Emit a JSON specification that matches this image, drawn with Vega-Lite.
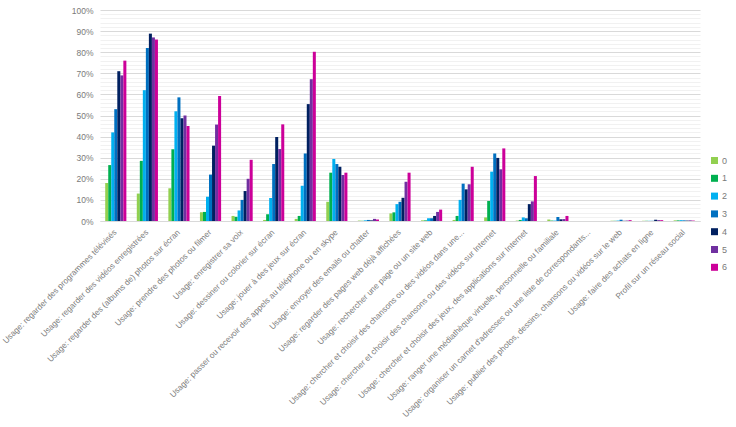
{
  "$schema": "https://vega.github.io/schema/vega-lite/v6.json",
  "width": 600,
  "height": 211,
  "autosize": {"type": "none"},
  "padding": {"left": 100, "top": 10, "right": 36, "bottom": 206},
  "background": "white",
  "config": {
    "view": {"stroke": null},
    "font": "Liberation Sans",
    "axis": {"labelColor": "#7a7a7a", "labelFont": "Liberation Sans"},
    "legend": {"labelColor": "#7a7a7a", "labelFont": "Liberation Sans"}
  },
  "data": {
    "values": [
      {"usage": "Usage: regarder des programmes télévisés", "groupe": "0", "pct": 18},
      {"usage": "Usage: regarder des programmes télévisés", "groupe": "1", "pct": 26.5},
      {"usage": "Usage: regarder des programmes télévisés", "groupe": "2", "pct": 42},
      {"usage": "Usage: regarder des programmes télévisés", "groupe": "3", "pct": 53},
      {"usage": "Usage: regarder des programmes télévisés", "groupe": "4", "pct": 71},
      {"usage": "Usage: regarder des programmes télévisés", "groupe": "5", "pct": 69},
      {"usage": "Usage: regarder des programmes télévisés", "groupe": "6", "pct": 76},

      {"usage": "Usage: regarder des vidéos enregistrées", "groupe": "0", "pct": 13},
      {"usage": "Usage: regarder des vidéos enregistrées", "groupe": "1", "pct": 28.5},
      {"usage": "Usage: regarder des vidéos enregistrées", "groupe": "2", "pct": 62},
      {"usage": "Usage: regarder des vidéos enregistrées", "groupe": "3", "pct": 82},
      {"usage": "Usage: regarder des vidéos enregistrées", "groupe": "4", "pct": 88.8},
      {"usage": "Usage: regarder des vidéos enregistrées", "groupe": "5", "pct": 87},
      {"usage": "Usage: regarder des vidéos enregistrées", "groupe": "6", "pct": 86},

      {"usage": "Usage: regarder des (albums de) photos sur écran", "groupe": "0", "pct": 15.5},
      {"usage": "Usage: regarder des (albums de) photos sur écran", "groupe": "1", "pct": 34},
      {"usage": "Usage: regarder des (albums de) photos sur écran", "groupe": "2", "pct": 52},
      {"usage": "Usage: regarder des (albums de) photos sur écran", "groupe": "3", "pct": 58.6},
      {"usage": "Usage: regarder des (albums de) photos sur écran", "groupe": "4", "pct": 48.7},
      {"usage": "Usage: regarder des (albums de) photos sur écran", "groupe": "5", "pct": 50},
      {"usage": "Usage: regarder des (albums de) photos sur écran", "groupe": "6", "pct": 45},

      {"usage": "Usage: prendre des photos ou filmer", "groupe": "0", "pct": 4.1},
      {"usage": "Usage: prendre des photos ou filmer", "groupe": "1", "pct": 4.3},
      {"usage": "Usage: prendre des photos ou filmer", "groupe": "2", "pct": 11.5},
      {"usage": "Usage: prendre des photos ou filmer", "groupe": "3", "pct": 22},
      {"usage": "Usage: prendre des photos ou filmer", "groupe": "4", "pct": 35.7},
      {"usage": "Usage: prendre des photos ou filmer", "groupe": "5", "pct": 45.7},
      {"usage": "Usage: prendre des photos ou filmer", "groupe": "6", "pct": 59.2},

      {"usage": "Usage: enregistrer sa voix", "groupe": "0", "pct": 2.4},
      {"usage": "Usage: enregistrer sa voix", "groupe": "1", "pct": 2},
      {"usage": "Usage: enregistrer sa voix", "groupe": "2", "pct": 5},
      {"usage": "Usage: enregistrer sa voix", "groupe": "3", "pct": 10},
      {"usage": "Usage: enregistrer sa voix", "groupe": "4", "pct": 14.2},
      {"usage": "Usage: enregistrer sa voix", "groupe": "5", "pct": 20},
      {"usage": "Usage: enregistrer sa voix", "groupe": "6", "pct": 29},

      {"usage": "Usage: dessiner ou colorier sur écran", "groupe": "0", "pct": 0.5},
      {"usage": "Usage: dessiner ou colorier sur écran", "groupe": "1", "pct": 3.2},
      {"usage": "Usage: dessiner ou colorier sur écran", "groupe": "2", "pct": 10.9},
      {"usage": "Usage: dessiner ou colorier sur écran", "groupe": "3", "pct": 27},
      {"usage": "Usage: dessiner ou colorier sur écran", "groupe": "4", "pct": 39.8},
      {"usage": "Usage: dessiner ou colorier sur écran", "groupe": "5", "pct": 34.1},
      {"usage": "Usage: dessiner ou colorier sur écran", "groupe": "6", "pct": 45.8},

      {"usage": "Usage: jouer à des jeux sur écran", "groupe": "0", "pct": 1},
      {"usage": "Usage: jouer à des jeux sur écran", "groupe": "1", "pct": 2.4},
      {"usage": "Usage: jouer à des jeux sur écran", "groupe": "2", "pct": 16.7},
      {"usage": "Usage: jouer à des jeux sur écran", "groupe": "3", "pct": 32},
      {"usage": "Usage: jouer à des jeux sur écran", "groupe": "4", "pct": 55.4},
      {"usage": "Usage: jouer à des jeux sur écran", "groupe": "5", "pct": 67.2},
      {"usage": "Usage: jouer à des jeux sur écran", "groupe": "6", "pct": 80.2},

      {"usage": "Usage: passer ou recevoir des appels au téléphone ou en skype", "groupe": "0", "pct": 9.1},
      {"usage": "Usage: passer ou recevoir des appels au téléphone ou en skype", "groupe": "1", "pct": 22.9},
      {"usage": "Usage: passer ou recevoir des appels au téléphone ou en skype", "groupe": "2", "pct": 29.4},
      {"usage": "Usage: passer ou recevoir des appels au téléphone ou en skype", "groupe": "3", "pct": 27},
      {"usage": "Usage: passer ou recevoir des appels au téléphone ou en skype", "groupe": "4", "pct": 25.7},
      {"usage": "Usage: passer ou recevoir des appels au téléphone ou en skype", "groupe": "5", "pct": 21.8},
      {"usage": "Usage: passer ou recevoir des appels au téléphone ou en skype", "groupe": "6", "pct": 22.9},

      {"usage": "Usage: envoyer des emails ou chatter", "groupe": "0", "pct": 0.2},
      {"usage": "Usage: envoyer des emails ou chatter", "groupe": "1", "pct": 0.1},
      {"usage": "Usage: envoyer des emails ou chatter", "groupe": "2", "pct": 0.3},
      {"usage": "Usage: envoyer des emails ou chatter", "groupe": "3", "pct": 0.5},
      {"usage": "Usage: envoyer des emails ou chatter", "groupe": "4", "pct": 0.3},
      {"usage": "Usage: envoyer des emails ou chatter", "groupe": "5", "pct": 1},
      {"usage": "Usage: envoyer des emails ou chatter", "groupe": "6", "pct": 0.7},

      {"usage": "Usage: regarder des pages web déjà affichées", "groupe": "0", "pct": 3.6},
      {"usage": "Usage: regarder des pages web déjà affichées", "groupe": "1", "pct": 4.1},
      {"usage": "Usage: regarder des pages web déjà affichées", "groupe": "2", "pct": 8},
      {"usage": "Usage: regarder des pages web déjà affichées", "groupe": "3", "pct": 9.1},
      {"usage": "Usage: regarder des pages web déjà affichées", "groupe": "4", "pct": 11},
      {"usage": "Usage: regarder des pages web déjà affichées", "groupe": "5", "pct": 18.6},
      {"usage": "Usage: regarder des pages web déjà affichées", "groupe": "6", "pct": 22.9},

      {"usage": "Usage: rechercher une page ou un site web", "groupe": "0", "pct": 0.3},
      {"usage": "Usage: rechercher une page ou un site web", "groupe": "1", "pct": 0.3},
      {"usage": "Usage: rechercher une page ou un site web", "groupe": "2", "pct": 1.3},
      {"usage": "Usage: rechercher une page ou un site web", "groupe": "3", "pct": 1.3},
      {"usage": "Usage: rechercher une page ou un site web", "groupe": "4", "pct": 2.4},
      {"usage": "Usage: rechercher une page ou un site web", "groupe": "5", "pct": 4.3},
      {"usage": "Usage: rechercher une page ou un site web", "groupe": "6", "pct": 5.4},

      {"usage": "Usage: chercher et choisir des chansons ou des vidéos dans une...", "groupe": "0", "pct": 0.5},
      {"usage": "Usage: chercher et choisir des chansons ou des vidéos dans une...", "groupe": "1", "pct": 2.4},
      {"usage": "Usage: chercher et choisir des chansons ou des vidéos dans une...", "groupe": "2", "pct": 10},
      {"usage": "Usage: chercher et choisir des chansons ou des vidéos dans une...", "groupe": "3", "pct": 17.7},
      {"usage": "Usage: chercher et choisir des chansons ou des vidéos dans une...", "groupe": "4", "pct": 15},
      {"usage": "Usage: chercher et choisir des chansons ou des vidéos dans une...", "groupe": "5", "pct": 17.4},
      {"usage": "Usage: chercher et choisir des chansons ou des vidéos dans une...", "groupe": "6", "pct": 25.7},

      {"usage": "Usage: chercher et choisir des chansons ou des vidéos sur Internet", "groupe": "0", "pct": 1.7},
      {"usage": "Usage: chercher et choisir des chansons ou des vidéos sur Internet", "groupe": "1", "pct": 9.5},
      {"usage": "Usage: chercher et choisir des chansons ou des vidéos sur Internet", "groupe": "2", "pct": 23.4},
      {"usage": "Usage: chercher et choisir des chansons ou des vidéos sur Internet", "groupe": "3", "pct": 32},
      {"usage": "Usage: chercher et choisir des chansons ou des vidéos sur Internet", "groupe": "4", "pct": 29.9},
      {"usage": "Usage: chercher et choisir des chansons ou des vidéos sur Internet", "groupe": "5", "pct": 24.5},
      {"usage": "Usage: chercher et choisir des chansons ou des vidéos sur Internet", "groupe": "6", "pct": 34.4},

      {"usage": "Usage: chercher et choisir des jeux, des applications sur Internet", "groupe": "0", "pct": 0.2},
      {"usage": "Usage: chercher et choisir des jeux, des applications sur Internet", "groupe": "1", "pct": 0.5},
      {"usage": "Usage: chercher et choisir des jeux, des applications sur Internet", "groupe": "2", "pct": 1.7},
      {"usage": "Usage: chercher et choisir des jeux, des applications sur Internet", "groupe": "3", "pct": 1.3},
      {"usage": "Usage: chercher et choisir des jeux, des applications sur Internet", "groupe": "4", "pct": 8},
      {"usage": "Usage: chercher et choisir des jeux, des applications sur Internet", "groupe": "5", "pct": 9.3},
      {"usage": "Usage: chercher et choisir des jeux, des applications sur Internet", "groupe": "6", "pct": 21.3},

      {"usage": "Usage: ranger une médiathèque virtuelle, personnelle ou familiale", "groupe": "0", "pct": 0.7},
      {"usage": "Usage: ranger une médiathèque virtuelle, personnelle ou familiale", "groupe": "1", "pct": 0.2},
      {"usage": "Usage: ranger une médiathèque virtuelle, personnelle ou familiale", "groupe": "2", "pct": 0.2},
      {"usage": "Usage: ranger une médiathèque virtuelle, personnelle ou familiale", "groupe": "3", "pct": 1.9},
      {"usage": "Usage: ranger une médiathèque virtuelle, personnelle ou familiale", "groupe": "4", "pct": 0.8},
      {"usage": "Usage: ranger une médiathèque virtuelle, personnelle ou familiale", "groupe": "5", "pct": 0.9},
      {"usage": "Usage: ranger une médiathèque virtuelle, personnelle ou familiale", "groupe": "6", "pct": 2.4},

      {"usage": "Usage: organiser un carnet d'adresses ou une liste de correspondants...", "groupe": "0", "pct": 0},
      {"usage": "Usage: organiser un carnet d'adresses ou une liste de correspondants...", "groupe": "1", "pct": 0},
      {"usage": "Usage: organiser un carnet d'adresses ou une liste de correspondants...", "groupe": "2", "pct": 0},
      {"usage": "Usage: organiser un carnet d'adresses ou une liste de correspondants...", "groupe": "3", "pct": 0},
      {"usage": "Usage: organiser un carnet d'adresses ou une liste de correspondants...", "groupe": "4", "pct": 0},
      {"usage": "Usage: organiser un carnet d'adresses ou une liste de correspondants...", "groupe": "5", "pct": 0},
      {"usage": "Usage: organiser un carnet d'adresses ou une liste de correspondants...", "groupe": "6", "pct": 0},

      {"usage": "Usage: publier des photos, dessins, chansons ou vidéos sur le web", "groupe": "0", "pct": 0.1},
      {"usage": "Usage: publier des photos, dessins, chansons ou vidéos sur le web", "groupe": "1", "pct": 0.1},
      {"usage": "Usage: publier des photos, dessins, chansons ou vidéos sur le web", "groupe": "2", "pct": 0.2},
      {"usage": "Usage: publier des photos, dessins, chansons ou vidéos sur le web", "groupe": "3", "pct": 0.6},
      {"usage": "Usage: publier des photos, dessins, chansons ou vidéos sur le web", "groupe": "4", "pct": 0.1},
      {"usage": "Usage: publier des photos, dessins, chansons ou vidéos sur le web", "groupe": "5", "pct": 0.2},
      {"usage": "Usage: publier des photos, dessins, chansons ou vidéos sur le web", "groupe": "6", "pct": 0.4},

      {"usage": "Usage: faire des achats en ligne", "groupe": "0", "pct": 0.1},
      {"usage": "Usage: faire des achats en ligne", "groupe": "1", "pct": 0.1},
      {"usage": "Usage: faire des achats en ligne", "groupe": "2", "pct": 0.1},
      {"usage": "Usage: faire des achats en ligne", "groupe": "3", "pct": 0.1},
      {"usage": "Usage: faire des achats en ligne", "groupe": "4", "pct": 0.6},
      {"usage": "Usage: faire des achats en ligne", "groupe": "5", "pct": 0.4},
      {"usage": "Usage: faire des achats en ligne", "groupe": "6", "pct": 0.4},

      {"usage": "Profil sur un réseau social", "groupe": "0", "pct": 0.3},
      {"usage": "Profil sur un réseau social", "groupe": "1", "pct": 0.3},
      {"usage": "Profil sur un réseau social", "groupe": "2", "pct": 0.4},
      {"usage": "Profil sur un réseau social", "groupe": "3", "pct": 0.3},
      {"usage": "Profil sur un réseau social", "groupe": "4", "pct": 0.2},
      {"usage": "Profil sur un réseau social", "groupe": "5", "pct": 0.3},
      {"usage": "Profil sur un réseau social", "groupe": "6", "pct": 0.2}
    ]
  },
  "mark": {"type": "bar"},
  "encoding": {
    "x": {
      "field": "usage",
      "type": "nominal",
      "sort": null,
      "title": null,
      "scale": {"paddingInner": 0.33, "paddingOuter": 0.165},
      "axis": {
        "labelAngle": -45,
        "labelAlign": "right",
        "labelBaseline": "middle",
        "labelFontSize": 8.2,
        "labelLimit": 400,
        "labelPadding": 10,
        "ticks": false,
        "domainColor": "#d9d9d9",
        "grid": false
      }
    },
    "xOffset": {
      "field": "groupe",
      "type": "nominal",
      "scale": {"paddingInner": 0, "paddingOuter": 0}
    },
    "y": {
      "field": "pct",
      "type": "quantitative",
      "title": null,
      "scale": {"domain": [0, 100], "nice": false},
      "axis": {
        "values": [0, 2, 4, 6, 8, 10, 12, 14, 16, 18, 20, 22, 24, 26, 28, 30, 32, 34, 36, 38, 40, 42, 44, 46, 48, 50, 52, 54, 56, 58, 60, 62, 64, 66, 68, 70, 72, 74, 76, 78, 80, 82, 84, 86, 88, 90, 92, 94, 96, 98, 100],
        "labelExpr": "datum.value % 10 === 0 ? datum.value + '%' : ''",
        "labelFontSize": 8.5,
        "labelPadding": 7,
        "ticks": false,
        "domain": false,
        "gridColor": {"condition": {"test": "datum.value % 10 === 0", "value": "#d9d9d9"}, "value": "#f1f1f1"}
      }
    },
    "color": {
      "field": "groupe",
      "type": "nominal",
      "scale": {
        "domain": ["0", "1", "2", "3", "4", "5", "6"],
        "range": ["#92D050", "#00B050", "#00B0F0", "#0070C0", "#002060", "#7030A0", "#CC0099"]
      },
      "legend": {
        "title": null,
        "orient": "none",
        "legendX": 610,
        "legendY": 146,
        "symbolType": "square",
        "symbolSize": 49,
        "symbolStrokeWidth": 0,
        "labelFontSize": 9,
        "labelOffset": 3,
        "rowPadding": 7.8
      }
    }
  }
}
